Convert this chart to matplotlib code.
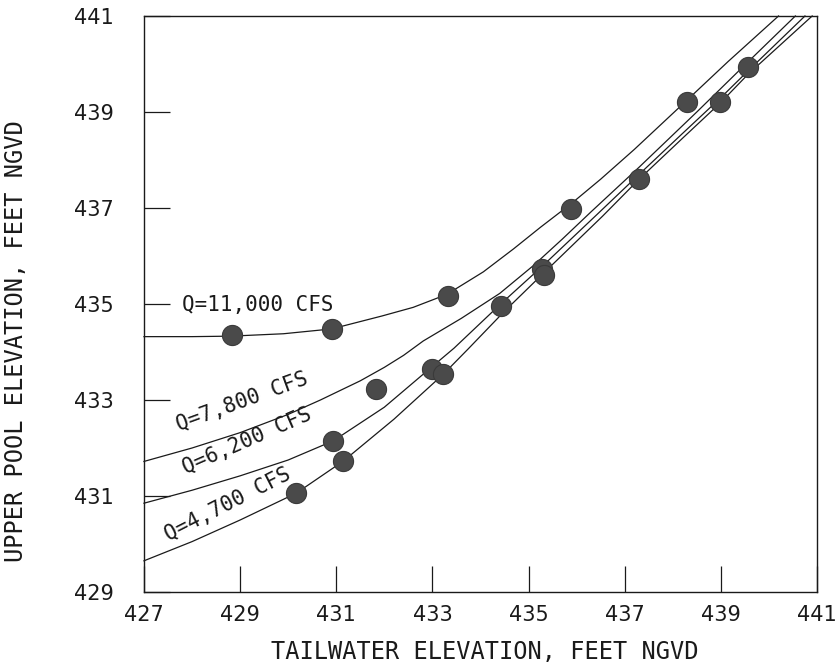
import matplotlib
matplotlib.use("Agg")
import matplotlib.pyplot as plt

# ---- data ----
# curves (tailwater x, upper pool y)
c11000_x = [427.0, 428.0, 428.8, 429.9, 430.9, 431.95, 432.6, 433.3, 434.06, 434.69, 435.25,
            435.9, 436.5, 437.2, 438.3, 439.15, 440.2]
c11000_y = [434.32, 434.32, 434.33, 434.38, 434.48, 434.75, 434.93, 435.2, 435.67, 436.15, 436.6,
            437.1, 437.6, 438.22, 439.25, 440.05, 441.0]

c7800_x = [427.0, 428.0, 429.0, 430.0, 430.67, 431.5, 432.0, 432.4, 432.81, 433.6, 434.4,
           435.1, 435.7, 436.3, 437.3, 438.5, 439.5, 440.55]
c7800_y = [431.72, 432.0, 432.32, 432.7, 433.0, 433.4, 433.68, 433.93, 434.23, 434.7, 435.22,
           435.8, 436.35, 436.92, 437.85, 439.0, 439.98, 441.0]

c6200_x = [427.0, 428.0, 429.0, 430.0, 430.94, 432.0, 433.0, 433.45, 434.42, 435.3, 436.44,
           437.3, 438.2, 439.0, 439.56, 440.75]
c6200_y = [430.85, 431.12, 431.42, 431.75, 432.15, 432.85, 433.7, 434.08, 435.0, 435.8, 436.88,
           437.7, 438.55, 439.3, 439.85, 441.0]

c4700_x = [427.0, 428.0, 429.0, 430.17, 431.15, 432.2, 433.23, 433.75, 434.5, 435.32, 436.54,
           437.3, 438.2, 439.0, 439.56, 440.9]
c4700_y = [429.65, 430.05, 430.5, 431.06, 431.73, 432.6, 433.54, 434.07, 434.85, 435.65, 436.83,
           437.6, 438.45, 439.2, 439.78, 441.0]

# observed points
pts_x = [428.83, 430.92, 433.33, 435.88, 438.29,
         431.83, 430.94, 431.15, 430.17, 433.0, 433.23,
         434.42, 435.28, 435.32, 437.29, 438.98, 439.56]
pts_y = [434.35, 434.48, 435.17, 436.98, 439.21,
         433.23, 432.15, 431.73, 431.06, 433.65, 433.54,
         434.96, 435.72, 435.6, 437.6, 439.21, 439.94]

labels = ["Q=11,000 CFS", "Q=7,800 CFS", "Q=6,200 CFS", "Q=4,700 CFS"]
label_x = [427.8, 429.04, 429.15, 428.75]
label_y = [434.97, 432.96, 432.15, 430.83]
label_rot = [0, 20, 23.5, 27]

xticks = [427, 429, 431, 433, 435, 437, 439, 441]
yticks = [429, 431, 433, 435, 437, 439, 441]

# ---- figure ----
fig = plt.figure(figsize=(8.4, 6.66), dpi=100)
ax = fig.add_axes([0.1714, 0.1111, 0.8012, 0.8649])

lc = "#1a1a1a"
for cx, cy in [(c11000_x, c11000_y), (c7800_x, c7800_y), (c6200_x, c6200_y), (c4700_x, c4700_y)]:
    ax.plot(cx, cy, color=lc, lw=0.9, zorder=2, clip_on=False, solid_joinstyle="round")

ax.plot(pts_x, pts_y, "o", color="#4a4a4a", markersize=14.5, markeredgecolor="#3a3a3a",
        markeredgewidth=0.8, zorder=3, linestyle="none")

for t, x, y, r in zip(labels, label_x, label_y, label_rot):
    if r == 0:
        ax.text(x, y, t, fontsize=15, family="DejaVu Sans Mono", color=lc,
                ha="left", va="center", rotation=r, rotation_mode="anchor")
    else:
        ax.text(x, y, t, fontsize=15, family="DejaVu Sans Mono", color=lc,
                ha="center", va="center", rotation=r, rotation_mode="anchor")

ax.set_xlim(427, 441)
ax.set_ylim(429, 441)
ax.set_xticks(xticks)
ax.set_yticks(yticks)
ax.tick_params(direction="in", length=19, width=0.9, colors=lc, labelsize=15)
ax.tick_params(axis="y", pad=22)
ax.tick_params(axis="x", pad=9)
for s in ax.spines.values():
    s.set_linewidth(1.0)
    s.set_color(lc)

ax.set_xlabel("TAILWATER ELEVATION, FEET NGVD", fontsize=17, family="DejaVu Sans Mono", color=lc)
ax.set_ylabel("UPPER POOL ELEVATION, FEET NGVD", fontsize=17, family="DejaVu Sans Mono", color=lc)
ax.xaxis.set_label_coords(0.507, -0.083)
ax.yaxis.set_label_coords(-0.172, 0.436)

fig.savefig("out.png", dpi=100)
